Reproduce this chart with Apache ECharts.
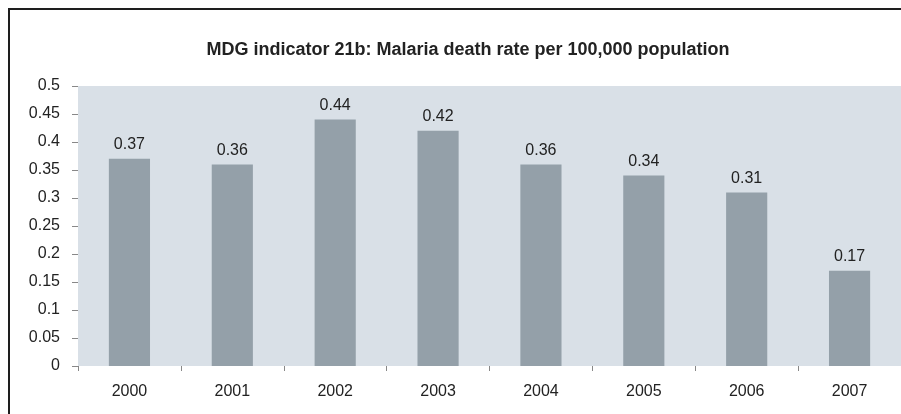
<!DOCTYPE html>
<html>
<head>
<meta charset="utf-8">
<script src="https://cdn.jsdelivr.net/npm/echarts@6/dist/echarts.min.js"></script>
<style>
  html, body { margin: 0; padding: 0; background: #ffffff; }
  #chart { width: 901px; height: 414px; }
</style>
</head>
<body>
<div id="chart"></div>
<script>
// Malaria death rate per 100,000 population, by year
const years = ['2000', '2001', '2002', '2003', '2004', '2005', '2006', '2007'];
const deathRates = [0.37, 0.36, 0.44, 0.42, 0.36, 0.34, 0.31, 0.17];
const yTicks = [0, 0.05, 0.1, 0.15, 0.2, 0.25, 0.3, 0.35, 0.4, 0.45, 0.5];

const chart = echarts.init(document.getElementById('chart'), null, { renderer: 'canvas' });
const font = '"Liberation Sans", Arial, sans-serif';

chart.setOption({
  animation: false,
  backgroundColor: '#ffffff',
  title: {
    text: 'MDG indicator 21b: Malaria death rate per 100,000 population',
    left: 463,
    top: 36,
    textAlign: 'center',
    textStyle: { fontFamily: font, fontSize: 18, fontWeight: 'bold', color: '#222222' }
  },
  graphic: [{
    type: 'rect',
    shape: { x: 9, y: 9, width: 1000, height: 1000 },
    style: { fill: 'none', stroke: '#1e1e1e', lineWidth: 2 },
    silent: true
  }],
  grid: {
    left: 78, top: 86, right: -1, bottom: 48,
    show: true, backgroundColor: '#d9e0e7', borderWidth: 0
  },
  xAxis: {
    type: 'category',
    data: years,
    boundaryGap: true,
    axisLine: { show: false },
    axisTick: { show: true, length: 5, alignWithLabel: false, lineStyle: { color: '#888888' } },
    axisLabel: { margin: 18, fontFamily: font, fontSize: 16, color: '#222222' }
  },
  yAxis: {
    type: 'value',
    min: yTicks[0],
    max: yTicks[yTicks.length - 1],
    interval: 0.05,
    axisLine: { show: false },
    axisTick: { show: true, length: 6, lineStyle: { color: '#888888' } },
    splitLine: { show: false },
    axisLabel: {
      margin: 18, fontFamily: font, fontSize: 16, color: '#222222',
      formatter: v => String(Math.round(v * 100) / 100)
    }
  },
  series: [{
    type: 'bar',
    data: deathRates,
    barWidth: '40%',
    itemStyle: { color: '#94a0a9' },
    label: {
      show: true, position: 'top', distance: 6,
      fontFamily: font, fontSize: 16, color: '#222222',
      formatter: p => p.value.toFixed(2)
    }
  }]
});
</script>
</body>
</html>
